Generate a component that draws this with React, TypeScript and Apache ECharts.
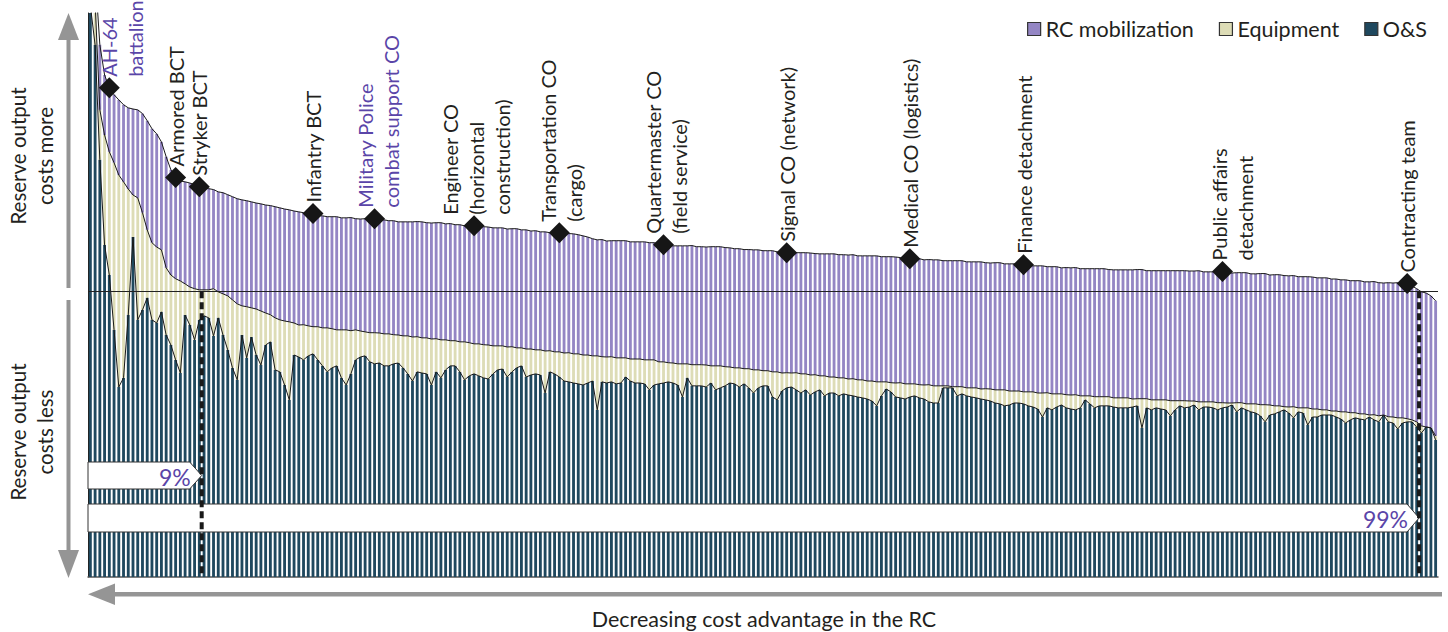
import React, { useEffect, useRef } from "react";
import * as echarts from "echarts";

const seriesNames = ["RC mobilization", "Equipment", "O&S"];

// Stacked cost components per unit type, sorted by decreasing RC cost advantage (parity = 100)
const osValues = [
  200, 186.2, 146.0, 116.2, 105.7, 86.5, 66.5, 69.7, 91.7, 119.0,
  90.0, 93.5, 97.7, 90.0, 88.9, 92.8, 84.7, 81.2, 76.0, 71.4,
  91.7, 88.2, 83.0, 90.0, 91.4, 90.7, 84.4, 90.7, 84.7, 79.5,
  73.2, 69.0, 84.7, 76.7, 84.0, 77.7, 74.2, 81.2, 82.3, 72.5,
  71.8, 67.2, 62.0, 77.7, 77.0, 76.0, 77.4, 78.1, 76.0, 73.9,
  71.8, 73.2, 73.9, 69.7, 67.2, 71.1, 76.0, 77.0, 77.4, 75.3,
  74.6, 74.9, 73.9, 73.9, 74.6, 74.9, 73.2, 71.1, 68.6, 71.8,
  71.4, 71.1, 67.2, 71.8, 69.7, 72.5, 73.9, 73.9, 71.8, 69.0,
  70.4, 71.1, 70.4, 69.7, 69.3, 71.1, 72.5, 72.8, 70.0, 71.8,
  73.2, 73.9, 70.0, 70.7, 71.1, 70.7, 64.4, 71.8, 71.1, 70.0,
  68.6, 68.3, 67.9, 67.6, 67.2, 67.9, 68.6, 58.5, 68.3, 67.9,
  68.3, 67.6, 67.9, 70.0, 68.6, 67.9, 67.9, 67.6, 65.5, 67.2,
  67.6, 67.9, 68.3, 67.9, 67.2, 63.0, 69.7, 66.9, 66.9, 66.9,
  66.5, 67.9, 65.5, 66.2, 66.9, 67.9, 67.6, 66.5, 67.6, 66.2,
  64.4, 66.2, 66.9, 66.9, 63.0, 62.0, 65.1, 66.2, 66.5, 65.5,
  64.4, 65.5, 63.7, 64.8, 65.5, 63.4, 64.4, 64.4, 63.4, 64.1,
  63.7, 63.4, 63.0, 62.7, 62.3, 61.6, 59.9, 63.4, 65.8, 64.8,
  63.0, 62.7, 62.3, 63.0, 63.4, 62.7, 62.3, 61.3, 60.9, 60.9,
  66.2, 66.2, 66.2, 63.4, 64.1, 63.4, 63.0, 62.7, 62.3, 62.0,
  61.6, 60.9, 60.6, 59.9, 60.2, 60.9, 60.9, 60.6, 59.9, 59.5,
  58.8, 56.0, 59.2, 58.5, 59.5, 60.2, 59.2, 58.8, 58.5, 59.2,
  62.0, 60.6, 59.2, 59.9, 59.9, 59.9, 59.5, 59.2, 59.2, 59.2,
  59.5, 59.9, 52.2, 59.2, 58.5, 59.2, 58.8, 58.5, 56.4, 58.5,
  59.9, 59.2, 59.5, 60.2, 58.5, 59.5, 59.5, 59.2, 58.5, 59.2,
  59.5, 60.2, 57.8, 59.2, 58.5, 57.8, 57.4, 56.4, 54.3, 56.7,
  57.1, 57.8, 58.5, 57.4, 55.7, 57.8, 57.4, 53.2, 56.0, 56.0,
  56.7, 56.7, 56.7, 56.0, 55.3, 53.9, 55.0, 55.7, 55.3, 55.0,
  56.0, 55.0, 54.3, 56.7, 54.3, 53.9, 51.8, 53.9, 54.3, 54.3,
  52.5, 50.4, 52.5, 52.2, 48.0,
];

const equipmentValues = [
  5, 15, 17.5, 38.5, 43.1, 58.5, 74.2, 68.6, 44.1, 14.7,
  42.7, 34.0, 23.8, 27.0, 26.6, 21.7, 23.5, 24.5, 28.4, 32.2,
  10.9, 13.3, 17.9, 10.5, 9.1, 9.8, 16.5, 9.1, 14.4, 18.9,
  23.8, 26.6, 10.2, 17.9, 10.2, 16.1, 18.9, 11.2, 9.5, 18.2,
  18.2, 22.4, 27.3, 11.2, 11.2, 12.3, 10.5, 9.5, 11.6, 13.3,
  15.4, 13.7, 12.6, 16.8, 19.3, 15.1, 10.5, 9.1, 8.4, 10.2,
  10.9, 10.5, 11.2, 11.2, 10.2, 9.8, 11.2, 13.3, 15.4, 12.3,
  12.3, 12.6, 16.1, 11.6, 13.3, 10.5, 8.8, 8.8, 10.5, 13.3,
  11.6, 10.5, 11.2, 11.6, 11.9, 9.8, 8.4, 8.1, 10.5, 8.8,
  7.0, 6.3, 9.8, 9.1, 8.4, 8.8, 14.7, 7.4, 7.7, 8.8,
  9.8, 10.2, 10.2, 10.5, 10.5, 9.8, 8.8, 18.9, 8.8, 9.1,
  8.8, 9.1, 8.8, 6.7, 7.7, 8.4, 8.4, 8.4, 10.5, 8.8,
  7.7, 7.4, 6.7, 7.0, 7.4, 11.6, 4.9, 7.4, 7.4, 7.4,
  7.7, 6.0, 8.4, 7.7, 6.7, 5.6, 5.6, 6.7, 5.3, 6.7,
  8.1, 6.3, 5.3, 5.3, 8.8, 9.8, 6.3, 5.3, 4.9, 6.0,
  6.7, 5.6, 7.0, 6.0, 4.9, 7.0, 5.6, 5.6, 6.3, 5.6,
  5.6, 6.0, 6.0, 6.3, 6.3, 7.0, 8.4, 4.9, 2.5, 3.2,
  4.9, 5.3, 5.3, 4.6, 4.2, 4.6, 4.9, 6.0, 6.0, 6.0,
  0.7, 0.7, 0.4, 3.2, 2.5, 2.8, 3.2, 3.5, 3.5, 3.9,
  4.2, 4.6, 4.9, 5.6, 4.9, 4.2, 4.2, 4.2, 4.9, 5.3,
  5.6, 8.4, 5.3, 5.6, 4.6, 3.9, 4.6, 4.9, 5.3, 4.2,
  1.4, 2.8, 3.9, 3.2, 3.2, 3.2, 3.2, 3.5, 3.5, 3.5,
  2.8, 2.5, 10.2, 3.2, 3.5, 2.8, 3.2, 3.5, 5.3, 3.2,
  1.8, 2.5, 2.1, 1.4, 2.8, 1.8, 1.8, 2.1, 2.5, 1.8,
  1.4, 0.7, 3.2, 1.8, 2.1, 2.8, 3.2, 3.9, 6.0, 3.5,
  2.8, 2.1, 1.1, 2.1, 3.9, 1.4, 1.8, 6.0, 2.8, 2.8,
  1.8, 1.8, 1.4, 2.1, 2.5, 3.9, 2.5, 1.8, 1.8, 2.1,
  0.7, 1.8, 2.1, 0, 1.8, 2.1, 3.9, 1.8, 1.1, 0.7,
  1.8, 2.5, 0, 0, 1.4,
];

const mobilizationValues = [
  5, 10, 22.8, 21.0, 22.4, 23.8, 26.3, 27.0, 28.4, 30.1,
  30.8, 34.7, 38.2, 39.9, 39.6, 37.8, 38.9, 36.8, 35.4, 35.0,
  35.7, 36.4, 36.4, 36.1, 35.7, 35.4, 34.7, 35.0, 35.4, 35.4,
  36.1, 36.8, 37.1, 37.1, 37.1, 37.1, 37.5, 37.8, 38.2, 38.9,
  39.2, 39.2, 39.2, 39.2, 39.6, 39.2, 39.6, 39.6, 38.9, 39.2,
  38.9, 39.2, 39.6, 39.2, 39.2, 39.6, 38.9, 39.2, 39.6, 39.9,
  39.9, 39.6, 39.9, 39.6, 39.9, 39.6, 39.9, 39.9, 40.3, 40.3,
  40.6, 40.3, 40.6, 40.6, 41.0, 40.6, 41.0, 40.6, 41.0, 40.6,
  41.0, 41.3, 41.0, 41.3, 41.3, 41.3, 41.3, 41.3, 41.3, 41.3,
  41.7, 41.3, 41.7, 41.3, 41.7, 41.3, 41.7, 41.3, 41.7, 41.7,
  41.7, 41.7, 42.0, 41.7, 41.7, 41.3, 41.0, 40.6, 41.0, 40.6,
  40.6, 41.0, 41.0, 41.0, 41.0, 41.0, 41.0, 41.3, 41.0, 41.0,
  41.3, 41.0, 41.3, 41.0, 41.3, 41.3, 41.3, 41.7, 41.3, 41.3,
  41.3, 41.7, 41.7, 41.7, 41.7, 41.7, 41.7, 41.7, 41.7, 41.7,
  42.0, 42.0, 42.0, 42.0, 42.4, 42.0, 42.4, 42.0, 42.0, 42.0,
  42.4, 42.4, 42.7, 42.4, 42.7, 42.7, 43.1, 43.1, 43.1, 43.1,
  43.4, 43.4, 43.4, 43.4, 43.8, 43.8, 44.1, 43.8, 43.8, 44.1,
  44.1, 43.8, 44.1, 43.8, 43.8, 44.1, 43.8, 43.8, 44.1, 44.1,
  43.8, 43.8, 44.1, 44.1, 44.1, 44.1, 44.1, 44.1, 44.5, 44.1,
  44.1, 44.5, 44.5, 44.1, 44.5, 44.5, 44.5, 44.5, 44.5, 44.1,
  44.5, 44.5, 44.1, 44.5, 44.5, 44.1, 44.5, 44.5, 44.5, 44.5,
  44.5, 44.5, 44.8, 44.8, 44.8, 44.5, 44.8, 44.8, 44.8, 44.8,
  45.2, 45.2, 45.2, 44.8, 45.2, 45.2, 45.2, 45.2, 45.5, 45.5,
  45.5, 45.5, 45.5, 45.5, 45.9, 45.5, 45.5, 45.5, 45.9, 45.9,
  45.5, 45.5, 45.5, 45.5, 45.9, 45.5, 45.5, 45.9, 45.9, 45.5,
  45.9, 45.9, 45.9, 45.9, 45.9, 45.9, 45.9, 45.9, 46.2, 45.9,
  46.2, 46.2, 46.2, 46.2, 46.2, 46.2, 46.2, 46.2, 46.6, 46.2,
  46.6, 46.6, 46.6, 46.2, 46.9, 46.9, 47.3, 46.9, 47.3, 46.9,
  46.6, 46.9, 46.9, 46.2, 47.3,
];

const parityLevel = 100;
const axisMax = 197.4;

const markerUnits = [4, 18, 23, 47, 60, 81, 99, 121, 147, 173, 197, 239, 278];
const markerLabels = [
  "AH-64\nbattalion",
  "Armored BCT",
  "Stryker BCT",
  "Infantry BCT",
  "Military Police\ncombat support CO",
  "Engineer CO\n(horizontal\nconstruction)",
  "Transportation CO\n(cargo)",
  "Quartermaster CO\n(field service)",
  "Signal CO (network)",
  "Medical CO (logistics)",
  "Finance detachment",
  "Public affairs\ndetachment",
  "Contracting team",
];
const shareLabels = ["9%", "99%"];
const shareCutoffs = [24, 281];

// styling (not data)
const markerLabelShiftX = [13, 0, 0, 0, 3, 2, 2, 2, 0, 0, 0, 10, 0];
const markerLabelHighlight = [true, false, false, false, true, false, false, false, false, false, false, false, false];
const shareBoxTop = [462, 504];
const shareBoxBottom = [489, 532];

const FONT = "Lato, 'Open Sans', 'DejaVu Sans', sans-serif";
const TEAL = "#1f485e";
const BEIGE = "#dddcb6";
const PURPLE = "#9486c4";
const PURPLE_TEXT = "#5a45a8";
const INK = "#231f20";
const ARROW = "#959595";

export default function App() {
  const ref = useRef<HTMLDivElement>(null);

  useEffect(() => {
    document.body.style.margin = "0";
    const el = ref.current as HTMLDivElement;
    const chart = echarts.init(el, null, { renderer: "svg" });

    const categories = osValues.map((_, i) => String(i + 1));
    const osEq = osValues.map((v, i) => +(v + equipmentValues[i]).toFixed(2));
    const total = osEq.map((v, i) => +(v + mobilizationValues[i]).toFixed(2));

    const gridLeft = 88;
    const lineStyle = { color: "#1a1a1a", width: 1 };

    chart.setOption({
      animation: false,
      grid: { left: gridLeft, right: 10, top: 13, bottom: 55 },
      legend: {
        data: seriesNames,
        right: 16,
        top: 13,
        icon: "rect",
        itemWidth: 13,
        itemHeight: 13,
        itemGap: 25,
        itemStyle: { borderColor: "#333", borderWidth: 1.2 },
        textStyle: { fontFamily: FONT, fontSize: 21.5, color: INK },
      },
      xAxis: {
        type: "category",
        data: categories,
        boundaryGap: true,
        axisLine: { show: true, lineStyle: { color: "#555", width: 1.5 } },
        axisTick: { show: false },
        axisLabel: { show: false },
        splitLine: { show: false },
      },
      yAxis: {
        type: "value",
        min: 0,
        max: axisMax,
        axisLine: { show: true, lineStyle: { color: "#222", width: 1 } },
        axisTick: { show: false },
        axisLabel: { show: false },
        splitLine: { show: false },
      },
      series: [
        {
          name: "O&S",
          type: "bar",
          stack: "cost",
          data: osValues,
          barCategoryGap: "40%",
          itemStyle: { color: TEAL },
          silent: true,
        },
        {
          name: "Equipment",
          type: "bar",
          stack: "cost",
          data: equipmentValues,
          itemStyle: { color: BEIGE },
          silent: true,
        },
        {
          name: "RC mobilization",
          type: "bar",
          stack: "cost",
          data: mobilizationValues,
          itemStyle: { color: PURPLE },
          silent: true,
          markLine: {
            silent: true,
            symbol: ["none", "none"],
            label: { show: false },
            lineStyle: { color: "#222", width: 1, type: "solid" },
            data: [{ yAxis: parityLevel }],
          },
        },
        { type: "line", data: osValues, symbol: "none", lineStyle, silent: true, z: 3 },
        { type: "line", data: osEq, symbol: "none", lineStyle, silent: true, z: 3 },
        { type: "line", data: total, symbol: "none", lineStyle, silent: true, z: 3 },
        {
          type: "scatter",
          data: markerUnits.map((u) => [u, total[u]]),
          symbol: "diamond",
          symbolSize: 21,
          itemStyle: { color: "#161616", opacity: 1 },
          silent: true,
          z: 10,
        },
      ],
    });

    const toPx = (i: number, v: number) =>
      chart.convertToPixel({ xAxisIndex: 0, yAxisIndex: 0 }, [i, v]) as number[];

    const elements: any[] = [];

    // Marker labels
    markerUnits.forEach((u, k) => {
      const p = toPx(u, total[u]);
      elements.push({
        type: "text",
        x: p[0] + markerLabelShiftX[k],
        y: p[1] - 11,
        rotation: Math.PI / 2,
        z: 100,
        silent: true,
        style: {
          text: markerLabels[k],
          align: "left",
          verticalAlign: "middle",
          fontFamily: FONT,
          fontSize: 20,
          lineHeight: 26,
          fill: markerLabelHighlight[k] ? PURPLE_TEXT : INK,
        },
      });
    });

    // Share boxes and dashed cut-off lines
    const parityY = toPx(0, parityLevel)[1];
    const baseY = toPx(0, 0)[1];
    shareCutoffs.forEach((c, k) => {
      const xc = (toPx(c - 1, 0)[0] + toPx(c, 0)[0]) / 2;
      const top = shareBoxTop[k];
      const bottom = shareBoxBottom[k];
      const mid = (top + bottom) / 2;
      elements.push({
        type: "polygon",
        z: 100,
        silent: true,
        shape: {
          points: [
            [gridLeft, top],
            [xc - 12, top],
            [xc, mid],
            [xc - 12, bottom],
            [gridLeft, bottom],
          ],
        },
        style: { fill: "#ffffff", stroke: "#333", lineWidth: 1 },
      });
      elements.push({
        type: "text",
        x: xc - 11,
        y: mid + 1,
        z: 101,
        silent: true,
        style: {
          text: shareLabels[k],
          align: "right",
          verticalAlign: "middle",
          fontFamily: FONT,
          fontSize: 23,
          fill: PURPLE_TEXT,
        },
      });
      elements.push({
        type: "line",
        z: 102,
        silent: true,
        shape: { x1: xc, y1: parityY, x2: xc, y2: baseY },
        style: { stroke: "#1a1a1a", lineWidth: 4, lineDash: [7, 4] },
      });
    });

    // Arrows and axis captions
    elements.push(
      { type: "rect", z: 100, silent: true, shape: { x: 66.5, y: 38, width: 4, height: 250 }, style: { fill: ARROW } },
      { type: "polygon", z: 100, silent: true, shape: { points: [[58, 40], [79, 40], [68.5, 13]] }, style: { fill: ARROW } },
      { type: "rect", z: 100, silent: true, shape: { x: 66.5, y: 300, width: 4, height: 252 }, style: { fill: ARROW } },
      { type: "polygon", z: 100, silent: true, shape: { points: [[58, 550], [79, 550], [68.5, 578]] }, style: { fill: ARROW } },
      { type: "rect", z: 100, silent: true, shape: { x: 112, y: 592, width: 1330, height: 4.5 }, style: { fill: ARROW } },
      { type: "polygon", z: 100, silent: true, shape: { points: [[88, 594.2], [115, 583.5], [115, 605]] }, style: { fill: ARROW } },
      {
        type: "text",
        x: 31,
        y: 156,
        rotation: Math.PI / 2,
        z: 100,
        silent: true,
        style: {
          text: "Reserve output\ncosts more",
          align: "center",
          verticalAlign: "middle",
          fontFamily: FONT,
          fontSize: 20.5,
          lineHeight: 27,
          fill: INK,
        },
      },
      {
        type: "text",
        x: 31,
        y: 432,
        rotation: Math.PI / 2,
        z: 100,
        silent: true,
        style: {
          text: "Reserve output\ncosts less",
          align: "center",
          verticalAlign: "middle",
          fontFamily: FONT,
          fontSize: 20.5,
          lineHeight: 27,
          fill: INK,
        },
      },
      {
        type: "text",
        x: 764,
        y: 619,
        z: 100,
        silent: true,
        style: {
          text: "Decreasing cost advantage in the RC",
          align: "center",
          verticalAlign: "middle",
          fontFamily: FONT,
          fontSize: 21.5,
          fill: INK,
        },
      }
    );

    chart.setOption({ graphic: elements });

    return () => {
      chart.dispose();
    };
  }, []);

  return <div ref={ref} style={{ width: 1448, height: 632 }} />;
}
